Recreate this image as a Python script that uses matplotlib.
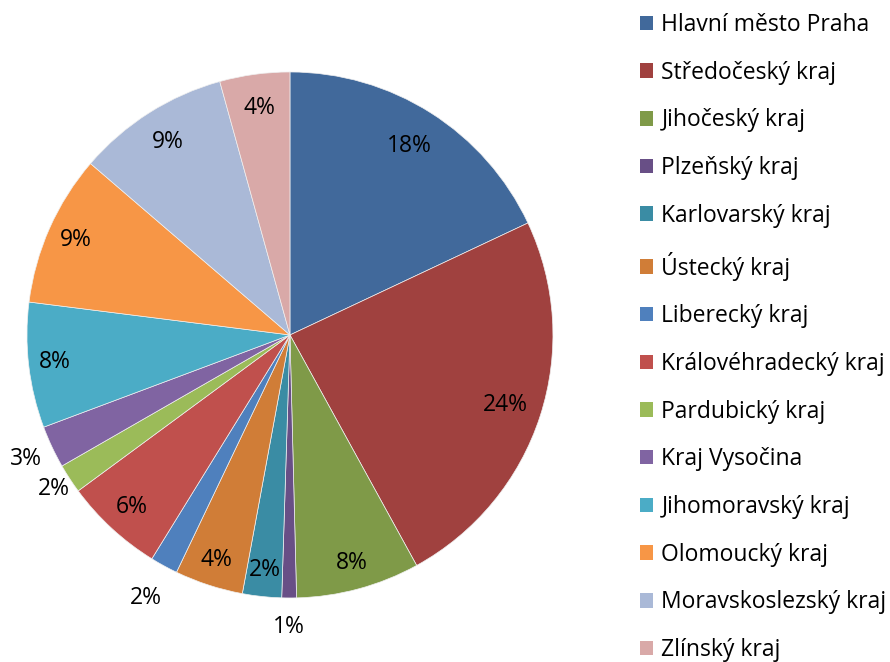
import numpy as np
import matplotlib
matplotlib.use('Agg')
import matplotlib.pyplot as plt
from matplotlib.patches import Patch

plt.rcParams['font.family'] = ['Open Sans', 'DejaVu Sans']

kraje = ['Hlavní město Praha', 'Středočeský kraj', 'Jihočeský kraj', 'Plzeňský kraj',
         'Karlovarský kraj', 'Ústecký kraj', 'Liberecký kraj', 'Královéhradecký kraj',
         'Pardubický kraj', 'Kraj Vysočina', 'Jihomoravský kraj', 'Olomoucký kraj',
         'Moravskoslezský kraj', 'Zlínský kraj']
podil = [18.0, 24.0, 7.6, 0.9, 2.4, 4.2, 1.7, 6.1, 1.8, 2.6, 7.7, 9.3, 9.4, 4.3]
barvy = ['#41699b', '#a0413f', '#7f9a48', '#684f86', '#3a8ca4', '#d07d37',
         '#4f80bd', '#c0504d', '#9bbb59', '#8064a2', '#4bacc6', '#f79646',
         '#aab9d7', '#d9a9a8']
# vzdalenost popisku od stredu (male vysece maji popisek venku)
r_popisku = [0.85, 0.86, 0.9, 1.11, 0.9, 0.9, 1.14, 0.89, 1.07, 1.11, 0.9, 0.89, 0.87, 0.87]

fig = plt.figure(figsize=(8.9, 6.62), dpi=100)
ax = fig.add_axes([0.0303, 0.0967, 0.591, 0.7946])

wedges, texts, autotexts = ax.pie(podil, colors=barvy, startangle=90, counterclock=False,
                                  autopct='%.0f%%', pctdistance=0.87,
                                  wedgeprops=dict(linewidth=0.5, edgecolor='#f0f0f0'),
                                  textprops=dict(fontsize=16.5, color='black'))
for w, t, r in zip(wedges, autotexts, r_popisku):
    ang = np.deg2rad((w.theta1 + w.theta2) / 2)
    t.set_position((r * np.cos(ang), r * np.sin(ang)))
    t.set_ha('center')
    t.set_va('center')

ax.set_xlim(-1, 1)
ax.set_ylim(-1, 1)
ax.set_aspect('equal')
ax.axis('off')

handles = [Patch(facecolor=c, edgecolor='none') for c in barvy]
fig.legend(handles, kraje, loc='upper left', bbox_to_anchor=(0.698, 1.008),
           frameon=False, fontsize=16.5, handlelength=0.6, handleheight=0.6,
           handletextpad=0.35, labelspacing=1.034, borderpad=0.3)

plt.savefig('out.png', dpi=100)
